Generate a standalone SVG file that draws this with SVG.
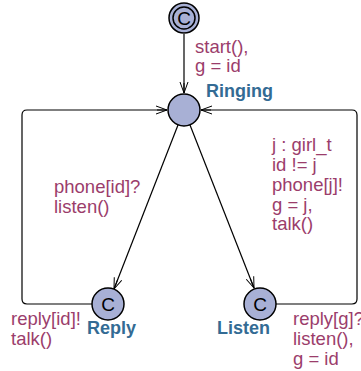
<svg xmlns="http://www.w3.org/2000/svg" width="361" height="371" viewBox="0 0 361 371">
<defs>
<marker id="arr" viewBox="0 0 12 10" markerWidth="12" markerHeight="10" refX="11" refY="5" orient="auto" markerUnits="userSpaceOnUse">
<polyline points="0,1 11,5 0,9" fill="none" stroke="#000" stroke-width="1"/>
<line x1="1" y1="5" x2="11" y2="5" stroke="#000" stroke-width="1"/>
</marker>
</defs>
<style>
.loc{fill:#a8b0d5;stroke:#000;stroke-width:1.5}
.edge{fill:none;stroke:#000;stroke-width:1.2;marker-end:url(#arr)}
.lbl{font-family:"Liberation Sans",Arial,sans-serif;font-size:18.5px;fill:#9b3d6b}
.name{font-family:"Liberation Sans",Arial,sans-serif;font-size:18px;font-weight:bold;fill:#336b94}
.c{font-family:"Liberation Sans",Arial,sans-serif;font-size:19px;fill:#000;text-anchor:middle}
</style>
<rect width="361" height="371" fill="#fff"/>
<g id="connectors">
<path class="edge" d="M184,34 V93"/>
<path class="edge" d="M178,125 L114,289"/>
<path class="edge" d="M190,125 L254,288"/>
<path class="edge" d="M92,304 H27 Q22,304 22,299 V115 Q22,110 27,110 H167"/>
<path class="edge" d="M276,304 H352 Q357,304 357,299 V115 Q357,110 352,110 H201"/>
</g>
<g id="init">
<circle class="loc" cx="184" cy="18" r="15"/>
<circle cx="184" cy="18" r="11" fill="none" stroke="#000" stroke-width="1.5"/>
<text class="c" x="184" y="25">C</text>
</g>
<g id="Ringing">
<circle class="loc" cx="184" cy="110" r="16"/>
<text class="name" x="206" y="97">Ringing</text>
</g>
<g id="Reply">
<circle class="loc" cx="108" cy="304" r="16"/>
<text class="c" x="108" y="311">C</text>
<text class="name" x="87" y="334">Reply</text>
</g>
<g id="Listen">
<circle class="loc" cx="260" cy="304" r="16"/>
<text class="c" x="260" y="311">C</text>
<text class="name" x="217" y="334">Listen</text>
</g>
<g id="labels">
<text class="lbl" x="195" y="53">start(),</text>
<text class="lbl" x="195" y="72">g = id</text>
<text class="lbl" x="54" y="193">phone[id]?</text>
<text class="lbl" x="54" y="213">listen()</text>
<text class="lbl" x="272" y="151">j : girl_t</text>
<text class="lbl" x="272" y="171">id != j</text>
<text class="lbl" x="272" y="191">phone[j]!</text>
<text class="lbl" x="272" y="211">g = j,</text>
<text class="lbl" x="272" y="230">talk()</text>
<text class="lbl" x="11" y="325">reply[id]!</text>
<text class="lbl" x="11" y="345">talk()</text>
<text class="lbl" x="293" y="325">reply[g]?</text>
<text class="lbl" x="293" y="345">listen(),</text>
<text class="lbl" x="293" y="365">g = id</text>
</g>
</svg>
